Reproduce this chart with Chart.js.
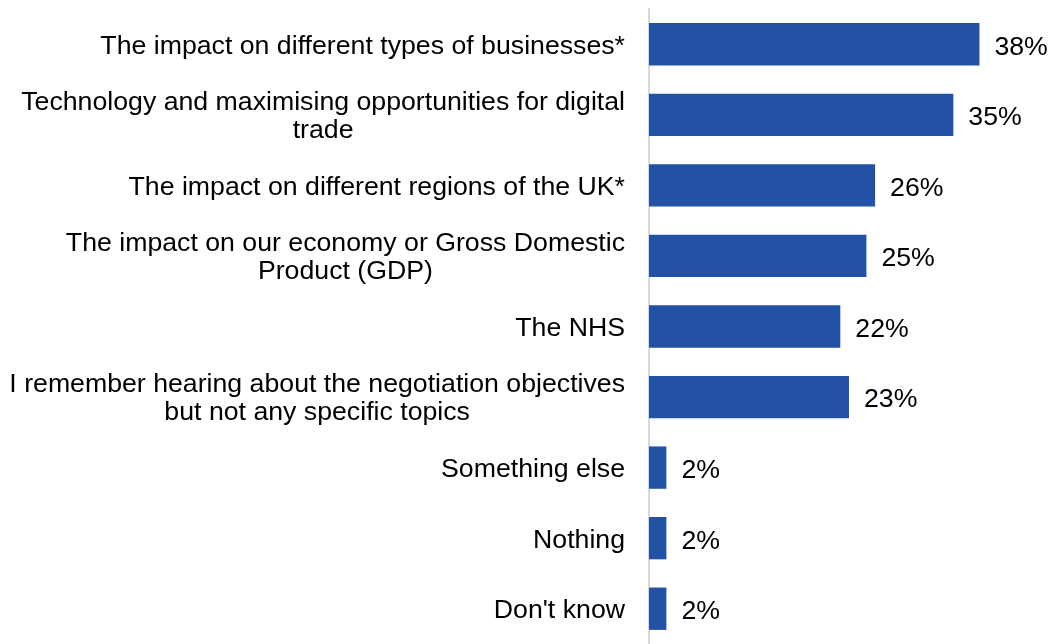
<!DOCTYPE html>
<html>
<head>
<meta charset="utf-8">
<script src="https://cdn.jsdelivr.net/npm/chart.js@4"></script>
<style>
  html, body { margin: 0; padding: 0; background: #fff; }
  #wrap { width: 1049px; height: 644px; }
</style>
</head>
<body>
<div id="wrap"><canvas id="myChart"></canvas></div>
<script>
var topics = [
    ['The impact on different types of businesses*'],
    ['Technology and maximising opportunities for digital', 'trade'],
    ['The impact on different regions of the UK*'],
    ['The impact on our economy or Gross Domestic', 'Product (GDP)'],
    ['The NHS'],
    ['I remember hearing about the negotiation objectives', 'but not any specific topics'],
    ['Something else'],
    ['Nothing'],
    ["Don't know"]
]
var percentages = [38, 35, 26, 25, 22, 23, 2, 2, 2]

var FONT = '26.7px "Liberation Sans", Arial, sans-serif'

// labels for the categories: lines centred on each other, block right aligned
var topicLabels = {
    id: 'topicLabels',
    afterDraw(chart) {
        var ctx = chart.ctx
        var yScale = chart.scales.y
        var right = chart.chartArea.left - 24
        var lineH = 28
        ctx.save()
        ctx.font = FONT
        ctx.fillStyle = '#000'
        ctx.textBaseline = 'middle'
        ctx.textAlign = 'center'
        topics.forEach(function(lines, i) {
            var y = yScale.getPixelForTick(i) + 2
            var widest = Math.max.apply(null, lines.map(function(l) { return ctx.measureText(l).width }))
            var cx = right - widest / 2
            var startY = y - (lines.length - 1) * lineH / 2
            lines.forEach(function(l, j) {
                ctx.fillText(l, cx, startY + j * lineH)
            })
        })
        ctx.restore()
    }
}

// percentage next to the end of each bar
var valueLabels = {
    id: 'valueLabels',
    afterDatasetsDraw(chart) {
        var ctx = chart.ctx
        var meta = chart.getDatasetMeta(0)
        ctx.save()
        ctx.font = FONT
        ctx.fillStyle = '#000'
        ctx.textBaseline = 'middle'
        ctx.textAlign = 'left'
        meta.data.forEach(function(bar, i) {
            ctx.fillText(percentages[i] + '%', bar.x + 15, bar.y + 3)
        })
        ctx.restore()
    }
}

var ctx = document.getElementById('myChart')

var myChart = new Chart(ctx, {
    type: 'bar',
    data: {
        labels: topics,
        datasets: [{
            data: percentages,
            backgroundColor: '#2351A6',
            categoryPercentage: 1,
            barPercentage: 0.6
        }]
    },
    options: {
        indexAxis: 'y',
        responsive: true,
        maintainAspectRatio: false,
        animation: false,
        layout: { padding: { top: 9, right: 0, bottom: 0, left: 0 } },
        plugins: {
            legend: { display: false },
            tooltip: { enabled: false }
        },
        scales: {
            x: {
                min: 0,
                max: 46,
                display: false
            },
            y: {
                ticks: { display: false },
                grid: { display: false, drawTicks: false },
                border: { display: true, color: '#d9d9d9', width: 2 },
                afterFit: function(scale) { scale.width = 649 }
            }
        }
    },
    plugins: [topicLabels, valueLabels]
});
</script>
</body>
</html>
